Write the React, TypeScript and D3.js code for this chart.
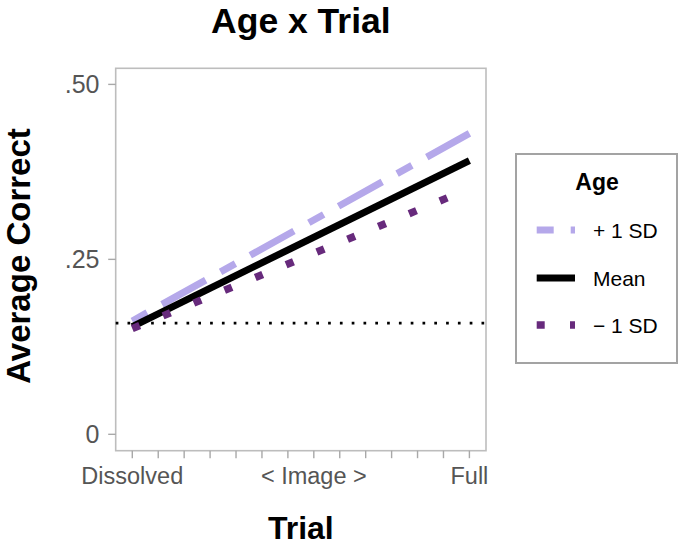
import React from "react";
import * as d3 from "d3";

const trialPositions = [1, 14];
const seriesNames = ["+ 1 SD", "Mean", "\u2212 1 SD"];
const plusSD = [0.162, 0.43];
const meanVals = [0.154, 0.391];
const minusSD = [0.151, 0.351];
const chanceLevel = 0.159;
const yTickValues = [0, 0.25, 0.5];
const yTickLabels = ["0", ".25", ".50"];
const xTickValues = [1, 2, 3, 4, 5, 6, 7, 8, 9, 10, 11, 12, 13, 14];
const xLabelPositions = [1, 8, 14];
const xLabels = ["Dissolved", "< Image >", "Full"];

const W = 682;
const H = 546;
const FONT = "'Liberation Sans', Arial, Helvetica, sans-serif";

export default function App() {
  const left = 115.7, right = 486, top = 68.3, bottom = 450.7;
  const x = d3.scaleLinear().domain([0.36, 14.64]).range([left, right]);
  const y = d3.scaleLinear().domain([-0.0234, 0.523]).range([bottom, top]);

  const series = [
    { name: seriesNames[0], vals: plusSD, color: "#b5a8ea", dash: "17,17,50,17", legendDash: "17,17", width: 7 },
    { name: seriesNames[1], vals: meanVals, color: "#000000", dash: null, legendDash: null, width: 7 },
    { name: seriesNames[2], vals: minusSD, color: "#672a7c", dash: "8,25.3", legendDash: "8,25.3", width: 7.5 },
  ];

  const line = d3
    .line<number>()
    .x((_, i) => x(trialPositions[i]))
    .y((d) => y(d));

  const legendYs = [230, 278, 325];

  return (
    <svg
      width={W}
      height={H}
      style={{ position: "absolute", left: 0, top: 0, background: "#fff" }}
      fontFamily={FONT}
    >
      {/* title */}
      <text x={(left + right) / 2} y={32.5} textAnchor="middle" fontSize={35.5} fontWeight="bold" fill="#000">
        Age x Trial
      </text>

      {/* panel */}
      <rect x={left} y={top} width={right - left} height={bottom - top} fill="none" stroke="#bdbdbd" strokeWidth={1.6} />

      {/* y ticks */}
      {yTickValues.map((v, i) => (
        <g key={"yt" + i}>
          <line x1={left - 7.5} x2={left} y1={y(v)} y2={y(v)} stroke="#a8a8a8" strokeWidth={1.4} />
          <text x={99.5} y={y(v)} dy="0.36em" textAnchor="end" fontSize={25} fill="#555">
            {yTickLabels[i]}
          </text>
        </g>
      ))}

      {/* x ticks */}
      {xTickValues.map((v, i) => (
        <line key={"xt" + i} x1={x(v)} x2={x(v)} y1={bottom} y2={bottom + 7.5} stroke="#a8a8a8" strokeWidth={1.4} />
      ))}
      {xLabelPositions.map((v, i) => (
        <text key={"xl" + i} x={x(v)} y={483.5} textAnchor="middle" fontSize={23.5} fill="#555">
          {xLabels[i]}
        </text>
      ))}

      {/* axis titles */}
      <text x={300.8} y={539} textAnchor="middle" fontSize={32} fontWeight="bold" fill="#000">
        Trial
      </text>
      <text
        transform={`translate(${30},${256}) rotate(-90)`}
        textAnchor="middle"
        fontSize={33}
        fontWeight="bold"
        fill="#000"
      >
        Average Correct
      </text>

      {/* chance line */}
      <line
        x1={left}
        x2={right}
        y1={y(chanceLevel)}
        y2={y(chanceLevel)}
        stroke="#000"
        strokeWidth={2.7}
        strokeDasharray="2.7,9.1"
      />

      {/* series lines */}
      {series.map((s, i) => (
        <path
          key={"s" + i}
          d={line(s.vals) || ""}
          fill="none"
          stroke={s.color}
          strokeWidth={s.width}
          strokeDasharray={s.dash || undefined}
          strokeLinecap="butt"
        />
      ))}

      {/* legend */}
      <rect x={516} y={154} width={161} height={209} fill="#fff" stroke="#a3a3a3" strokeWidth={2} />
      <text x={597} y={190} textAnchor="middle" fontSize={23} fontWeight="bold" fill="#000">
        Age
      </text>
      {series.map((s, i) => (
        <g key={"lg" + i}>
          <line
            x1={536.7}
            x2={575}
            y1={legendYs[i]}
            y2={legendYs[i]}
            stroke={s.color}
            strokeWidth={s.width}
            strokeDasharray={s.legendDash || undefined}
          />
          <text x={593} y={legendYs[i]} dy="0.36em" fontSize={21} fill="#000">
            {s.name}
          </text>
        </g>
      ))}
    </svg>
  );
}
